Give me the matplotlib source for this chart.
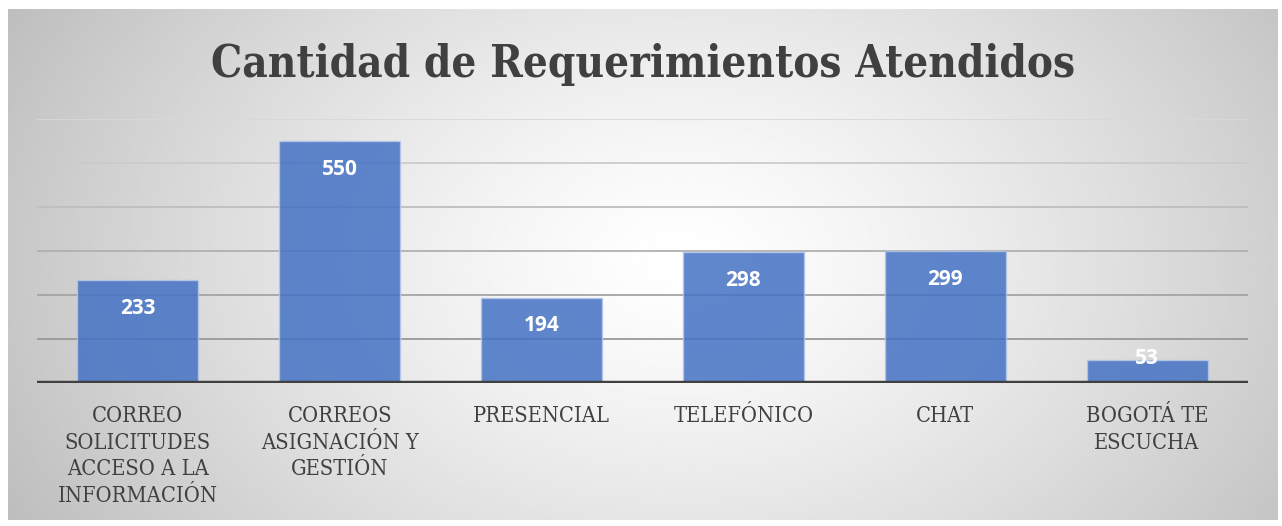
import matplotlib.pyplot as plt
import numpy as np

categories = ['CORREO\nSOLICITUDES\nACCESO A LA\nINFORMACIÓN',
              'CORREOS\nASIGNACIÓN Y\nGESTIÓN',
              'PRESENCIAL',
              'TELEFÓNICO',
              'CHAT',
              'BOGOTÁ TE\nESCUCHA']
values = [233, 550, 194, 298, 299, 53]
grid_values = [100, 200, 300, 400, 500, 600]
grid_colors = ['#989898', '#a4a4a4', '#b0b0b0', '#bebebe', '#cbcbcb', '#d8d8d8']

W, H = 1282, 526
fig = plt.figure(figsize=(W / 100, H / 100), dpi=100)
fig.patch.set_facecolor('white')

# gray frame with radial gradient
x0, y0, x1, y1 = 8, 9, 1278, 520
bg = fig.add_axes([x0 / W, 1 - y1 / H, (x1 - x0) / W, (y1 - y0) / H])
gx, gy = np.meshgrid(np.linspace(x0, x1, 400), np.linspace(y0, y1, 200))
r = np.sqrt(((gx - 680) / 680) ** 2 + ((gy - 260) / 480) ** 2)
shade = 1.0 - 0.22 * np.clip(r, 0, 1.3) ** 1.3
bg.imshow(shade, cmap='gray', vmin=0, vmax=1, aspect='auto',
          extent=[0, 1, 0, 1], interpolation='bilinear')
bg.set_axis_off()

# plot area
left, right, base, top = 37, 1248, 383, 119
ax = fig.add_axes([left / W, 1 - base / H, (right - left) / W, (base - top) / H])
ax.patch.set_alpha(0)
x = np.arange(len(values))
ax.set_xlim(-0.5, len(values) - 0.5)
ax.set_ylim(0, 600)

for g, c in zip(grid_values, grid_colors):
    ax.axhline(g, color=c, lw=1.3, zorder=1)

ax.bar(x, values, width=0.6, color='#4472C4', alpha=0.85,
       edgecolor='#b4c7e7', linewidth=1, zorder=2)
ax.axhline(0, color='#404040', lw=3.2, zorder=3)

for xi, v in zip(x, values):
    ly = v - 64 if v > 100 else v + 2
    ax.text(xi, ly, str(v), ha='center', va='center', color='white',
            fontsize=15, fontweight='bold', family='Open Sans', zorder=4)

for s in ax.spines.values():
    s.set_visible(False)
ax.set_yticks([])
ax.set_xticks(x)
ax.set_xticklabels(categories, family='DejaVu Serif', stretch='condensed',
                   fontsize=15.7, color='#404040', linespacing=1.27)
ax.tick_params(axis='x', length=0, pad=16)

fig.text(643 / W, 1 - 64 / H, 'Cantidad de Requerimientos Atendidos',
         ha='center', va='center', fontsize=31.5, fontweight='bold',
         color='#404040', family='DejaVu Serif', stretch='condensed')

fig.savefig('out.png', dpi=100)
